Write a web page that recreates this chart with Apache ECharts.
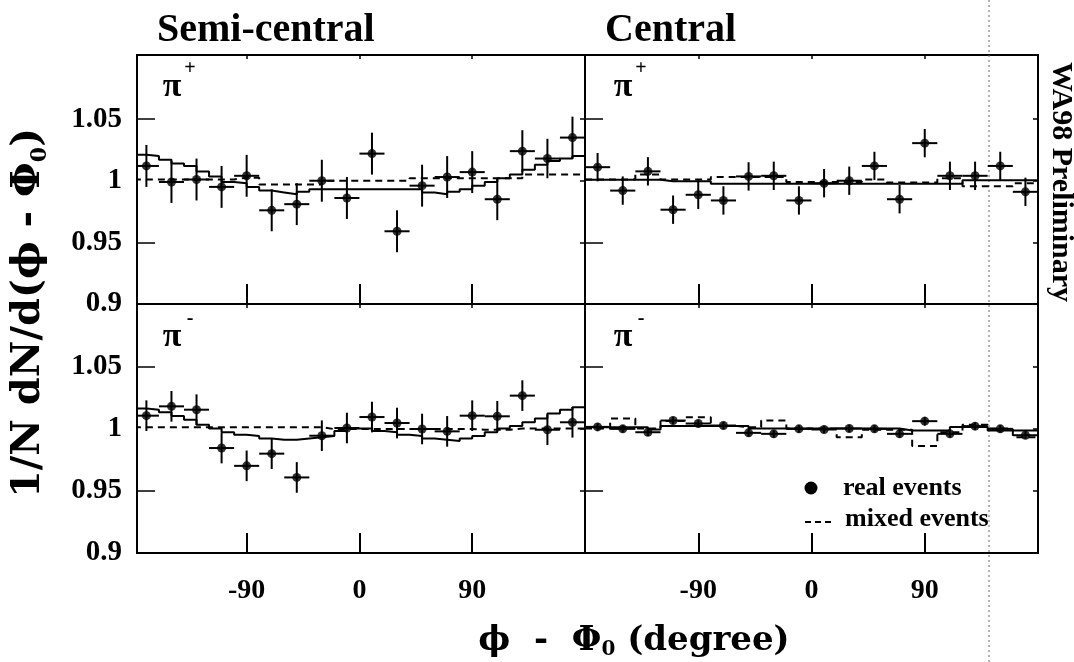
<!DOCTYPE html>
<html><head><meta charset="utf-8">
<script src="https://cdn.jsdelivr.net/npm/echarts@6/dist/echarts.min.js"></script>
<style>html,body{margin:0;padding:0;background:#fff}#c{width:1074px;height:662px}</style>
</head><body><div id="c"></div>
<script>
// ---------- data ----------
const binCenters = [-170,-150,-130,-110,-90,-70,-50,-30,-10,10,30,50,70,90,110,130,150,170];
const binHalfWidth = 10;
const lineEdges = [-180,-170,-160,-150,-140,-130,-120,-110,-100,-90,-80,-70,-60,-50,-40,-30,-20,-10,0,10,20,30,40,50,60,70,80,90,100,110,120,130,140,150,160,170,180];
const xTickLabels = [-90, 0, 90];
const yTickLabels = [0.9, 0.95, 1, 1.05];
const yMajorTicks = [0.95, 1.05];
const yMinorTicks = [0.95, 1, 1.05];

// pi+ semi-central
const piPlusSemiReal = [1.012,0.999,1.001,0.995,1.004,0.976,0.981,1.000,0.986,1.022,0.959,0.996,1.003,1.007,0.985,1.024,1.018,1.035];
const piPlusSemiErr  = [0.017,0.017,0.017,0.017,0.017,0.017,0.017,0.017,0.017,0.017,0.017,0.017,0.017,0.017,0.017,0.017,0.016,0.017];
const piPlusSemiSolid = [1.021,1.020,1.017,1.014,1.012,1.0075,1.0035,0.999,0.998,0.995,0.992,0.9905,0.989,0.991,0.993,0.993,0.993,0.993,0.993,0.993,0.993,0.993,0.993,0.9905,0.989,0.991,0.993,0.996,0.999,1.002,1.005,1.009,1.013,1.016,1.018,1.020];
const piPlusSemiMixed = [1.001,1.001,1.001,1.001,1.001,1.001,1.001,1.001,1.0025,1.0025,0.997,0.997,0.997,0.997,0.997,1.000,1.000,1.000,1.000,1.000,1.000,1.000,1.002,1.002,1.002,1.002,1.002,1.002,1.002,1.002,1.002,1.005,1.005,1.005,1.005,1.005];

// pi+ central
const piPlusCentReal = [1.011,0.992,1.0076,0.9765,0.9886,0.984,1.0035,1.004,0.984,0.998,1.000,1.012,0.985,1.0305,1.004,1.004,1.012,0.991];
const piPlusCentErr  = [0.0115,0.0115,0.0115,0.0115,0.0115,0.0115,0.0115,0.0115,0.0115,0.0115,0.0115,0.0115,0.0115,0.0115,0.0115,0.0115,0.0115,0.0115];
const piPlusCentSolid = [1.0008,1.0008,1.0008,1.0008,1.0008,1.0008,0.9995,0.9995,0.9995,0.9995,0.9975,0.9975,0.9975,0.9975,0.9975,0.9975,0.9975,0.9975,0.9975,0.9975,0.9975,0.9975,0.9975,0.9975,0.9975,0.9975,0.9975,0.9975,0.9975,0.9975,1.0003,1.0003,1.0003,1.0003,1.0003,1.0003];
const piPlusCentMixed = [1.001,1.001,1.001,1.001,1.005,1.005,1.001,1.001,1.001,1.001,1.003,1.003,1.003,1.003,1.003,1.003,0.999,0.999,0.999,0.999,0.999,0.999,1.001,1.001,0.9985,0.9985,0.9985,0.9985,1.002,1.002,0.9955,0.9955,0.9955,0.9955,0.998,0.998];

// pi- semi-central
const piMinusSemiReal = [1.0103,1.0178,1.0151,0.9843,0.970,0.9798,0.9607,0.9942,1.0004,1.0092,1.0044,0.9996,0.9977,1.0103,1.0098,1.0264,0.999,1.005];
const piMinusSemiErr  = [0.0123,0.0123,0.0123,0.0123,0.0123,0.0123,0.0123,0.0123,0.0123,0.0123,0.0123,0.0123,0.0123,0.0123,0.0123,0.0123,0.0123,0.0123];
const piMinusSemiSolid = [1.016,1.015,1.013,1.010,1.007,1.003,1.000,0.997,0.995,0.994,0.992,0.991,0.991,0.992,0.993,0.994,0.998,1.000,1.000,0.998,0.997,0.995,0.994,0.992,0.991,0.990,0.992,0.994,0.997,1.000,1.002,1.005,1.008,1.012,1.015,1.017];
const piMinusSemiMixed = [1.001,1.001,1.001,1.001,1.001,1.001,1.001,1.001,1.001,1.001,1.001,1.001,1.001,1.001,1.001,0.9995,0.9995,0.9995,0.9995,0.9995,0.9995,0.9995,0.9995,0.9995,0.9995,0.9995,0.9995,0.999,0.999,0.999,1.000,1.000,1.000,1.000,1.000,1.000];

// pi- central
const piMinusCentReal = [1.0013,0.9997,0.997,1.0064,1.004,1.0024,0.9965,0.9957,0.9997,0.9992,1.000,0.9997,0.9957,1.0059,0.9957,1.0019,0.9997,0.9946];
const piMinusCentErr  = [0.003,0.003,0.003,0.003,0.003,0.003,0.003,0.003,0.003,0.003,0.003,0.003,0.003,0.0035,0.003,0.003,0.003,0.003];
const piMinusCentSolid = [1.001,1.001,1.001,1.001,1.001,0.9992,1.002,1.002,1.002,1.002,1.002,1.002,1.002,1.000,1.000,1.000,1.000,1.000,1.000,1.000,1.000,1.000,1.000,1.000,1.000,0.9984,0.9984,0.9984,0.9984,1.0013,1.0013,1.0013,0.9984,0.9984,0.9984,0.9984];
const piMinusCentMixed = [1.000,1.000,1.008,1.008,1.000,1.000,1.006,1.006,1.009,1.009,1.002,1.002,1.001,1.001,1.0064,1.0064,1.000,1.000,1.000,1.000,0.993,0.993,0.999,0.999,0.999,0.999,0.986,0.986,0.997,0.997,1.003,1.003,1.000,1.000,0.993,0.993];

const panels = [
  {real: piPlusSemiReal,  err: piPlusSemiErr,  solid: piPlusSemiSolid,  mixed: piPlusSemiMixed,  label: '+'},
  {real: piPlusCentReal,  err: piPlusCentErr,  solid: piPlusCentSolid,  mixed: piPlusCentMixed,  label: '+'},
  {real: piMinusSemiReal, err: piMinusSemiErr, solid: piMinusSemiSolid, mixed: piMinusSemiMixed, label: '-'},
  {real: piMinusCentReal, err: piMinusCentErr, solid: piMinusCentSolid, mixed: piMinusCentMixed, label: '-'}
];

// ---------- layout ----------
const gridBoxes = [
  {left: 137, top: 55,  width: 448, height: 249},
  {left: 585, top: 55,  width: 453, height: 249},
  {left: 137, top: 304, width: 448, height: 249},
  {left: 585, top: 304, width: 453, height: 249}
];
const xMins = [-177.5, -180, -177.5, -180];
const yMaxs = [1.102, 1.102, 1.1, 1.1];

const SERIF = '"Liberation Serif", "Times New Roman", serif';
const SERIF2 = '"DejaVu Serif", "Liberation Serif", serif';

function stepData(vals) {
  const d = vals.map((v, i) => [lineEdges[i], v]);
  d.push([lineEdges[lineEdges.length - 1], vals[vals.length - 1]]);
  return d;
}

function errItem(params, api) {
  const x = api.value(0), y = api.value(1), e = api.value(2);
  const l = api.coord([x - binHalfWidth, y]), r = api.coord([x + binHalfWidth, y]);
  const t = api.coord([x, y + e]), b = api.coord([x, y - e]);
  return {type: 'group', children: [
    {type: 'line', shape: {x1: l[0], y1: l[1], x2: r[0], y2: r[1]}, style: {stroke: '#000', lineWidth: 2}},
    {type: 'line', shape: {x1: t[0], y1: t[1], x2: b[0], y2: b[1]}, style: {stroke: '#000', lineWidth: 2}}
  ]};
}

const grids = gridBoxes.map(g => Object.assign({show: true, borderColor: '#000', borderWidth: 2, backgroundColor: 'transparent'}, g));

const xAxes = [], yAxes = [], series = [];
for (let p = 0; p < 4; p++) {
  xAxes.push({
    gridIndex: p, type: 'value', min: xMins[p], max: 180, position: 'bottom',
    axisLine: {show: false, onZero: false}, splitLine: {show: false},
    axisTick: {show: true, inside: true, length: 20, lineStyle: {color: '#000', width: 2}, customValues: xTickLabels},
    axisLabel: {show: p >= 2, customValues: xTickLabels, color: '#000', fontFamily: SERIF, fontWeight: 'bold', fontSize: 28, margin: 24}
  });
  yAxes.push({
    gridIndex: p, type: 'value', min: 0.9, max: yMaxs[p], position: 'left',
    axisLine: {show: false, onZero: false}, splitLine: {show: false},
    axisTick: {show: true, inside: true, length: 18, lineStyle: {color: '#000', width: 1.5}, customValues: yMajorTicks},
    axisLabel: {show: p % 2 === 0, customValues: yTickLabels, color: '#000', fontFamily: SERIF, fontWeight: 'bold', fontSize: 29, margin: 15,
      formatter: v => String(v)}
  });
}
for (let p = 0; p < 4; p++) {
  xAxes.push({
    gridIndex: p, type: 'value', min: xMins[p], max: 180, position: 'top',
    axisLine: {show: false, onZero: false}, splitLine: {show: false}, axisLabel: {show: false},
    axisTick: {show: true, inside: true, length: 4, lineStyle: {color: '#000', width: 1.5}, customValues: xTickLabels}
  });
  yAxes.push({
    gridIndex: p, type: 'value', min: 0.9, max: yMaxs[p], position: 'right',
    axisLine: {show: false, onZero: false}, splitLine: {show: false}, axisLabel: {show: false},
    axisTick: {show: true, inside: true, length: 5, lineStyle: {color: '#000', width: 1.5}, customValues: yMinorTicks}
  });
}

panels.forEach((pd, p) => {
  series.push({
    type: 'line', xAxisIndex: p, yAxisIndex: p, step: 'end', symbol: 'none', clip: true,
    lineStyle: {color: '#000', width: 2}, data: stepData(pd.solid), z: 2, silent: true
  });
  series.push({
    type: 'line', xAxisIndex: p, yAxisIndex: p, step: 'end', symbol: 'none', clip: true,
    lineStyle: {color: '#000', width: 2, type: [7, 5]}, data: stepData(pd.mixed), z: 2, silent: true
  });
  series.push({
    type: 'custom', xAxisIndex: p, yAxisIndex: p, clip: true, renderItem: errItem,
    encode: {x: 0, y: 1}, data: binCenters.map((c, i) => [c, pd.real[i], pd.err[i]]), z: 3, silent: true
  });
  series.push({
    type: 'scatter', xAxisIndex: p, yAxisIndex: p, symbol: 'circle', symbolSize: 9,
    itemStyle: {color: '#000'}, data: binCenters.map((c, i) => [c, pd.real[i]]), z: 4, silent: true
  });
});

const piPos = [[172, 87], [623, 87], [172, 337], [623, 337]];
const graphics = [];
piPos.forEach((pp, p) => {
  graphics.push({type: 'text', x: pp[0], y: pp[1], style: {text: 'π', font: 'bold 34px ' + SERIF, fill: '#000', textAlign: 'center', textVerticalAlign: 'middle'}});
  graphics.push({type: 'text', x: pp[0] + 18, y: pp[1] - 18, style: {text: panels[p].label, font: 'bold 20px ' + SERIF, fill: '#000', textAlign: 'center', textVerticalAlign: 'middle'}});
});
graphics.push(
  {type: 'text', x: 157, y: 31, style: {text: 'Semi-central', font: 'bold 40px ' + SERIF, fill: '#000', textAlign: 'left', textVerticalAlign: 'middle'}},
  {type: 'text', x: 605, y: 31, style: {text: 'Central', font: 'bold 40px ' + SERIF, fill: '#000', textAlign: 'left', textVerticalAlign: 'middle'}},
  {type: 'text', x: 1061, y: 182, rotation: -Math.PI / 2, style: {text: 'WA98 Preliminary', font: 'bold 30px ' + SERIF, fill: '#000', textAlign: 'center', textVerticalAlign: 'middle'}},
  {type: 'text', x: 29, y: 313, rotation: Math.PI / 2, style: {
    text: '{a|1/N dN/d(ϕ - Φ}{s|0}{a|)}', textAlign: 'center', textVerticalAlign: 'middle', fill: '#000',
    rich: {a: {font: 'bold 40px ' + SERIF2, fill: '#000', lineHeight: 44}, s: {font: 'bold 22px ' + SERIF2, fill: '#000', verticalAlign: 'bottom', lineHeight: 44}}
  }},
  {type: 'text', x: 634, y: 641, style: {
    text: '{a|ϕ  -  Φ}{s|0}{a| (degree)}', textAlign: 'center', textVerticalAlign: 'middle', fill: '#000',
    rich: {a: {font: 'bold 34px ' + SERIF2, fill: '#000', lineHeight: 38}, s: {font: 'bold 20px ' + SERIF2, fill: '#000', verticalAlign: 'bottom', lineHeight: 38}}
  }},
  {type: 'circle', shape: {cx: 811, cy: 488, r: 6.5}, style: {fill: '#000'}},
  {type: 'text', x: 843, y: 488, style: {text: 'real events', font: 'bold 26px ' + SERIF, fill: '#000', textAlign: 'left', textVerticalAlign: 'middle'}},
  {type: 'line', shape: {x1: 805, y1: 522, x2: 833, y2: 522}, style: {stroke: '#000', lineWidth: 2, lineDash: [6, 4]}},
  {type: 'text', x: 845, y: 519, style: {text: 'mixed events', font: 'bold 26px ' + SERIF, fill: '#000', textAlign: 'left', textVerticalAlign: 'middle'}},
  {type: 'line', shape: {x1: 989, y1: 0, x2: 989, y2: 662}, style: {stroke: '#666', lineWidth: 1, lineDash: [2, 3]}}
);

const chart = echarts.init(document.getElementById('c'), null, {renderer: 'canvas'});
chart.setOption({
  animation: false,
  backgroundColor: '#fff',
  grid: grids,
  xAxis: xAxes,
  yAxis: yAxes,
  series: series,
  graphic: {elements: graphics}
});
</script>
</body></html>
